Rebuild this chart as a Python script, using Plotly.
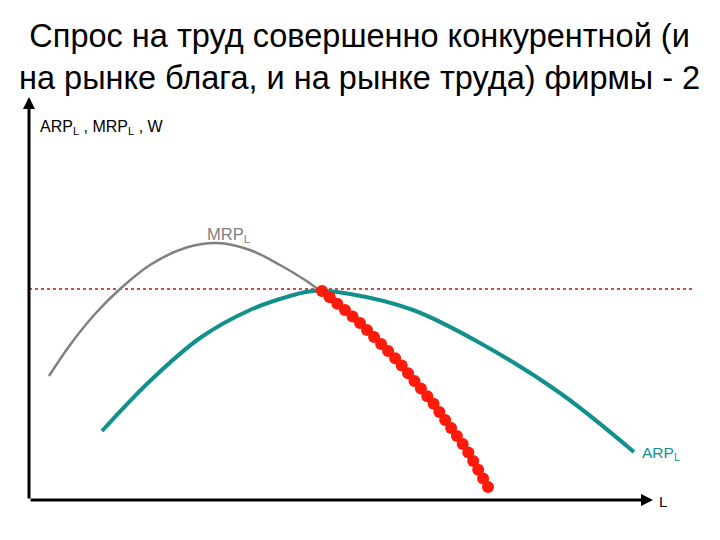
import plotly.graph_objects as go

# curve data (arbitrary units, y measured upward)
mrp_x = [49, 70, 95, 120, 150, 185, 217, 250, 280, 305, 323]
mrp_y = [164, 195, 226, 251, 275, 292, 297, 290, 275, 260, 247]

arp_x = [102, 150, 200, 250, 290, 313, 350, 413, 480, 560, 634]
arp_y = [109, 159, 202, 230, 244, 249, 246, 230, 197, 147, 88]

# labour demand curve (the red dots)
dem_x = [322, 329.7, 337.3, 345.0, 352.6, 360.0, 367.0, 374.1, 381.1, 388.1,
         395.2, 401.7, 408.1, 414.5, 420.9, 427.3, 433.6, 439.4, 445.2, 451.1,
         456.9, 462.7, 468.3, 473.2, 478.2, 483.1, 488]
dem_y = [249, 242.7, 236.3, 230.0, 223.6, 217.0, 210.0, 202.9, 195.9, 188.9,
         181.8, 174.4, 166.7, 159.1, 151.5, 143.8, 136.2, 128.1, 120.1, 112.0,
         104.0, 95.9, 87.6, 79.0, 70.3, 61.6, 53]

wage = 251
wage_x = [29, 695]

x_axis = [29, 653]
y_axis = [40, 443]

sans = "Liberation Sans, Arial"

fig = go.Figure()

fig.add_trace(go.Scatter(
    x=wage_x, y=[wage, wage], mode="lines",
    line=dict(color="#c81010", width=1.5, dash="dot"), hoverinfo="skip",
))
fig.add_trace(go.Scatter(
    x=mrp_x, y=mrp_y, mode="lines", line_shape="spline",
    line=dict(color="#808080", width=2.5), name="MRPL",
))
fig.add_trace(go.Scatter(
    x=arp_x, y=arp_y, mode="lines", line_shape="spline",
    line=dict(color="#12918c", width=4), name="ARPL",
))
fig.add_trace(go.Scatter(
    x=dem_x, y=dem_y, mode="markers",
    marker=dict(color="#ff1a0a", size=12, line=dict(width=0)), name="demand",
))

# axes drawn as arrows
fig.add_annotation(
    x=x_axis[0], y=y_axis[1], ax=x_axis[0], ay=y_axis[0],
    xref="x", yref="y", axref="x", ayref="y", text="",
    showarrow=True, arrowhead=2, arrowsize=0.8, arrowwidth=3, arrowcolor="black",
)
fig.add_annotation(
    x=x_axis[1], y=y_axis[0], ax=x_axis[0], ay=y_axis[0],
    xref="x", yref="y", axref="x", ayref="y", text="",
    showarrow=True, arrowhead=2, arrowsize=0.8, arrowwidth=3, arrowcolor="black",
)

fig.add_annotation(
    x=359, y=483, xref="x", yref="y", showarrow=False,
    text="Спрос на труд совершенно конкурентной (и<br>на рынке блага, и на рынке труда) фирмы - 2",
    font=dict(family=sans, size=32.5, color="black"), align="center",
)
fig.add_annotation(
    x=38, y=413, xref="x", yref="y", showarrow=False, xanchor="left",
    text="ARP<sub>L</sub> , MRP<sub>L</sub> , W",
    font=dict(family=sans, size=16, color="black"),
)
fig.add_annotation(
    x=205, y=305, xref="x", yref="y", showarrow=False, xanchor="left",
    text="MRP<sub>L</sub>", font=dict(family=sans, size=16.5, color="#808080"),
)
fig.add_annotation(
    x=640, y=87, xref="x", yref="y", showarrow=False, xanchor="left",
    text="ARP<sub>L</sub>", font=dict(family=sans, size=15.5, color="#12918c"),
)
fig.add_annotation(
    x=657, y=39, xref="x", yref="y", showarrow=False, xanchor="left",
    text="L", font=dict(family=sans, size=15, color="black"),
)

# the page body has an 8px margin, so the visible window is offset by 8
fig.update_layout(
    width=720, height=540,
    margin=dict(l=0, r=0, t=0, b=0),
    paper_bgcolor="white", plot_bgcolor="white",
    showlegend=False,
    xaxis=dict(visible=False, range=[8, 728], fixedrange=True),
    yaxis=dict(visible=False, range=[-8, 532], fixedrange=True),
)

fig.write_html("out.html")
